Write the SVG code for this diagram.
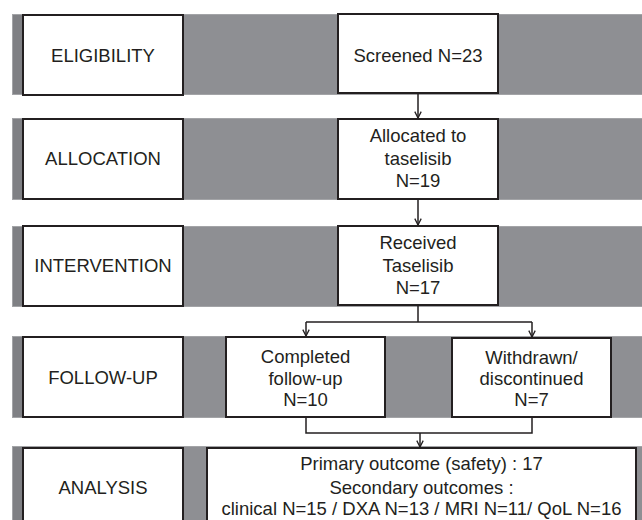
<svg xmlns="http://www.w3.org/2000/svg" width="642" height="520" viewBox="0 0 642 520">
<style>
.band{fill:#8e8f93;stroke:#a3a4a7;stroke-width:1}
.strip{fill:#7f8084}
.box{fill:#ffffff;stroke:#231f20;stroke-width:2}
text{font-family:"Liberation Sans",Arial,sans-serif;font-size:18.5px;fill:#231f20;text-anchor:middle}
.conn{fill:none;stroke:#231f20;stroke-width:1.5}
</style>
<defs>
<marker id="ah" viewBox="0 0 10 10" refX="9" refY="5" markerWidth="8" markerHeight="8" markerUnits="userSpaceOnUse" orient="auto">
<path d="M1,1 L9,5 L1,9" fill="none" stroke="#231f20" stroke-width="1.6"/>
</marker>
</defs>
<g id="bands">
<rect class="band" x="12.5" y="14.5" width="640" height="80"/>
<rect class="band" x="12.5" y="118.5" width="640" height="81"/>
<rect class="band" x="12.5" y="226.5" width="640" height="80"/>
<rect class="band" x="12.5" y="336.5" width="640" height="81"/>
<rect class="band" x="12.5" y="446.5" width="640" height="90"/>
<rect class="strip" x="13" y="15" width="10" height="79"/>
<rect class="strip" x="13" y="119" width="10" height="80"/>
<rect class="strip" x="13" y="227" width="10" height="79"/>
<rect class="strip" x="13" y="337" width="10" height="80"/>
<rect class="strip" x="13" y="447" width="10" height="80"/>
</g>
<g id="eligibility">
<rect class="box" x="23" y="15" width="160" height="80"/>
<text x="103" y="61.5">ELIGIBILITY</text>
</g>
<g id="allocation">
<rect class="box" x="23" y="119" width="160" height="80"/>
<text x="103" y="165">ALLOCATION</text>
</g>
<g id="intervention">
<rect class="box" x="23" y="226" width="160" height="80"/>
<text x="103" y="272">INTERVENTION</text>
</g>
<g id="followup">
<rect class="box" x="23" y="337" width="160" height="80"/>
<text x="103" y="383.5">FOLLOW-UP</text>
</g>
<g id="analysis">
<rect class="box" x="23" y="448" width="160" height="90"/>
<text x="103" y="493.5">ANALYSIS</text>
</g>
<g id="screened">
<rect class="box" x="338" y="14" width="160" height="79"/>
<text x="418" y="61.5">Screened N=23</text>
</g>
<g id="allocated">
<rect class="box" x="338" y="119" width="160" height="80"/>
<text x="418" y="142">Allocated to</text>
<text x="418" y="165">taselisib</text>
<text x="418" y="187">N=19</text>
</g>
<g id="received">
<rect class="box" x="338" y="226" width="160" height="79"/>
<text x="418" y="249">Received</text>
<text x="418" y="272">Taselisib</text>
<text x="418" y="293.5">N=17</text>
</g>
<g id="completed">
<rect class="box" x="226" y="337" width="159" height="80"/>
<text x="305.5" y="363">Completed</text>
<text x="305.5" y="384.5">follow-up</text>
<text x="305.5" y="406">N=10</text>
</g>
<g id="withdrawn">
<rect class="box" x="452" y="338" width="159" height="79"/>
<text x="531.5" y="363.5">Withdrawn/</text>
<text x="531.5" y="384.5">discontinued</text>
<text x="531.5" y="406">N=7</text>
</g>
<g id="outcomes">
<rect class="box" x="207" y="448" width="429" height="90"/>
<text x="421.5" y="470">Primary outcome (safety) : 17</text>
<text x="421.5" y="493.5">Secondary outcomes :</text>
<text x="421.5" y="515">clinical N=15 / DXA N=13 / MRI N=11/ QoL N=16</text>
</g>
<g id="connectors">
<path class="conn" d="M418,93 V118" marker-end="url(#ah)"/>
<path class="conn" d="M418,199 V225" marker-end="url(#ah)"/>
<path class="conn" d="M418,305 V322 M306,322 H532"/>
<path class="conn" d="M306,322 V336" marker-end="url(#ah)"/>
<path class="conn" d="M532,322 V337" marker-end="url(#ah)"/>
<path class="conn" d="M306,417 V433 H532 V417"/>
<path class="conn" d="M420,433 V447" marker-end="url(#ah)"/>
</g>
</svg>
